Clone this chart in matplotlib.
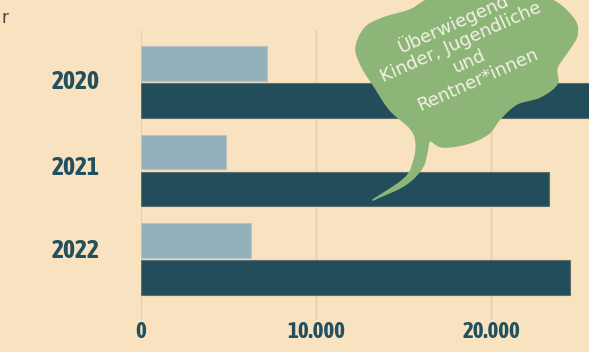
import matplotlib
matplotlib.use("Agg")
import matplotlib.pyplot as plt
from matplotlib.patches import Polygon
from matplotlib import font_manager as fm
import numpy as np

years = ["2020", "2021", "2022"]
light_values = [7200, 4850, 6300]
dark_values = [27000, 23300, 24500]
xticks = [0, 10000, 20000]
xtick_labels = ["0", "10.000", "20.000"]
bubble_text = "Überwiegend\nKinder, Jugendliche\nund\nRentner*innen"

BG = "#F9E2BF"
LIGHT = "#93B1BC"
DARK = "#224E5B"
TXT = "#22505E"
GREEN = "#8DB577"

W, H = 589, 352
fig = plt.figure(figsize=(W / 100, H / 100), dpi=100, facecolor=BG)

ax_l = 141 / W
ax_b = 32 / H
ax_h = 290 / H
ax = fig.add_axes([ax_l, ax_b, 1 - ax_l, ax_h], facecolor=BG)

pos = np.arange(len(years))
off = 0.209
hgt = 0.395
ax.barh(pos - off, light_values, height=hgt, color=LIGHT, edgecolor="#B9C3C0", linewidth=0.8, zorder=3)
ax.barh(pos + off, dark_values, height=hgt, color=DARK, edgecolor="#5E6E6C", linewidth=0.8, zorder=3)

ax.set_xlim(0, 25600)
ax.set_ylim(2.69, -0.588)

for xv in xticks[1:]:
    ax.axvline(xv, color="#E6CCA8", linewidth=1.0, zorder=1)
ax.axvline(0, color="#D9CDB6", linewidth=1.2, zorder=2)


def wnum(w):
    if isinstance(w, (int, float)):
        return w
    return {"bold": 700, "heavy": 800, "black": 900, "semibold": 600, "demibold": 600,
            "extra bold": 800, "medium": 500}.get(str(w).lower(), 400)


cands = []
for f in fm.fontManager.ttflist:
    isc = ("Condensed" in f.name or "Narrow" in f.name or "condensed" in str(f.stretch)
           or "Condensed" in f.fname or "Narrow" in f.fname)
    if isc and f.style == "normal":
        pref = 1 if "DejaVu" in f.fname else 0
        cands.append((pref, abs(wnum(f.weight) - 700), f.fname))
cands.sort()
if cands:
    tickprop = fm.FontProperties(fname=cands[0][2])
    is_dejavu = "DejaVu" in cands[0][2]
else:
    tickprop = fm.FontProperties(family="DejaVu Sans", weight="bold")
    is_dejavu = True

ysize, xsize = (16, 14) if is_dejavu else (18.5, 16.5)

# year labels sit slightly above each group's centre in the reference
label_shift = [-0.034, -0.06, -0.12]
ax.set_yticks(pos + np.array(label_shift))
ax.set_yticklabels(years, color=TXT)
ax.set_xticks(xticks)
ax.set_xticklabels(xtick_labels, color=TXT)
for lab in ax.get_yticklabels():
    lab.set_fontproperties(tickprop)
    lab.set_fontsize(ysize)
for lab in ax.get_xticklabels():
    lab.set_fontproperties(tickprop)
    lab.set_fontsize(xsize)
ax.tick_params(axis="y", length=0, pad=30)
ax.tick_params(axis="x", length=0, pad=1)
for s in ax.spines.values():
    s.set_visible(False)

fig.text(8 / W, 1 - 18 / H, "r", ha="right", va="center", fontsize=12, color="#444444")

# speech bubble outline control points (figure pixels), smoothed
ctrl = [
    (433, -2), (490, -12), (547, -2), (573, 18), (577, 35), (568, 51),
    (557, 68), (557, 84), (540, 97), (517, 104), (500, 119), (488, 134),
    (466, 144), (442, 147), (430, 141), (427, 152), (422, 168), (405, 185),
    (373, 200), (405, 178), (414, 160), (416, 142), (410, 128), (390, 110),
    (374, 86), (362, 67), (356, 48), (365, 28), (383, 18), (410, 10)
]
c = np.array(ctrl, dtype=float)
n = len(c)
tip = 18
out = []
for i in range(n):
    p0, p1, p2, p3 = c[(i - 1) % n], c[i], c[(i + 1) % n], c[(i + 2) % n]
    if i == tip:
        p0 = p1 - (p2 - p1)
    if (i + 1) % n == tip:
        p3 = p2 + (p2 - p1)
    for t in np.linspace(0, 1, 12, endpoint=False):
        t2, t3 = t * t, t * t * t
        out.append(0.5 * ((2 * p1) + (-p0 + p2) * t + (2 * p0 - 5 * p1 + 4 * p2 - p3) * t2
                          + (-p0 + 3 * p1 - 3 * p2 + p3) * t3))
out = np.array(out)
pts = np.column_stack([out[:, 0] / W, 1 - out[:, 1] / H])
bubble = Polygon(pts, closed=True, transform=fig.transFigure, facecolor=GREEN,
                 edgecolor=GREEN, linewidth=1, joinstyle="round", zorder=10)
fig.patches.append(bubble)

fig.text(465 / W, 1 - 51 / H, bubble_text, ha="center", va="center", rotation=24,
         rotation_mode="anchor", fontsize=13, color="#F4F1E6", linespacing=1.15,
         family=["DejaVu Sans"], zorder=11)

fig.savefig("out.png", dpi=100, facecolor=BG)
